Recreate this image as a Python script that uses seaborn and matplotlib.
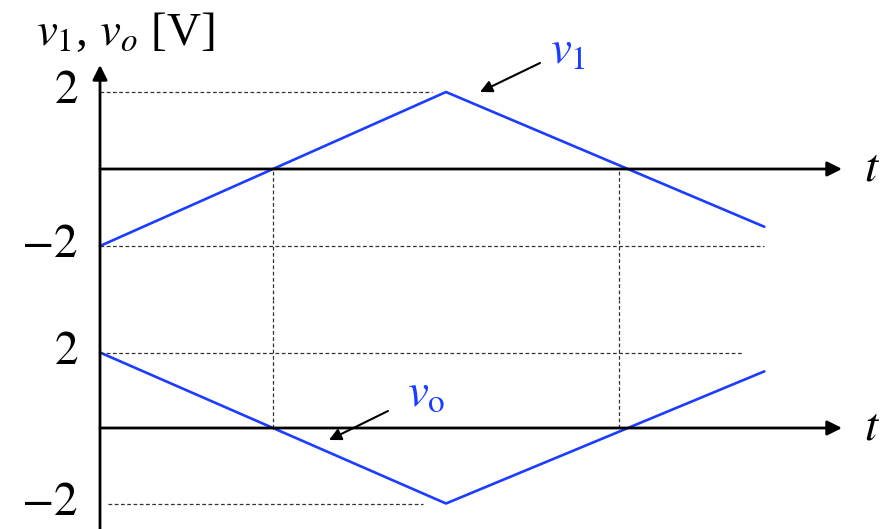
import matplotlib
matplotlib.use("Agg")
import matplotlib.pyplot as plt
import numpy as np
import pandas as pd
import seaborn as sns

# Waveform data (time in units of the v1 rise time, voltages in V)
t_points = [0.0, 1.0, 1.92]
v1_values = [-2.0, 2.0, -1.5]
vo_values = [2.0, -2.0, 1.5]
level_ticks = [2, -2]
level_labels = ["$2$", "$-2$"]
crossing_times = [0.5, 1.5]

sns.set_theme(style="white")
plt.rcParams["font.family"] = ["Liberation Serif", "DejaVu Serif"]
plt.rcParams["mathtext.fontset"] = "stix"
plt.rcParams["text.color"] = "black"

BLUE = "#1c3cff"
DASH = dict(color="#333333", lw=0.9, linestyle=(0, (3, 2)))
FS = 34

W, H = 883, 529
fig = plt.figure(figsize=(W / 100, H / 100), dpi=100)
split = 300  # pixel row where the two panels meet
ax_top = fig.add_axes([0, 1 - split / H, 1, split / H])
ax_bot = fig.add_axes([0, 0, 1, 1 - split / H])

# pixel layout helpers: x0 = origin column, px per time unit
x0, sx = 100, 346
xlim = (-x0 / sx, (W - x0) / sx)
top_c, top_s = 169, 38.5
bot_c, bot_s = 428, 37.75
ax_top.set_xlim(*xlim)
ax_bot.set_xlim(*xlim)
ax_top.set_ylim((top_c - split) / top_s, top_c / top_s)
ax_bot.set_ylim((bot_c - H) / bot_s, (bot_c - split) / bot_s)

def tx(px):
    return (px - x0) / sx

df = pd.DataFrame({"t": t_points, "v1": v1_values, "vo": vo_values})
sns.lineplot(data=df, x="t", y="v1", ax=ax_top, color=BLUE, lw=1.9, sort=False)
sns.lineplot(data=df, x="t", y="vo", ax=ax_bot, color=BLUE, lw=1.9, sort=False)

for ax in (ax_top, ax_bot):
    ax.set_axis_off()

arrow = dict(arrowstyle="-|>", lw=2.0, color="black", mutation_scale=22,
             shrinkA=0, shrinkB=0)

# time axes
t_end = tx(842)
for ax in (ax_top, ax_bot):
    ax.annotate("", xy=(t_end, 0), xytext=(0, 0), arrowprops=arrow)
    ax.text(tx(864), 0, "$t$", fontsize=FS, ha="left", va="center")

# vertical voltage axis spanning both panels
ax_bot.annotate("", xy=(0, (bot_c - 65) / bot_s),
                xytext=(0, (bot_c - H) / bot_s), arrowprops=arrow,
                annotation_clip=False)

# reference levels
ax_top.hlines(2, 0, tx(432), **DASH)
ax_top.hlines(-2, 0, tx(764), **DASH)
ax_bot.hlines(2, 0, tx(742), **DASH)
ax_bot.hlines(-2, tx(108), tx(423), **DASH)

# zero-crossing markers connecting both time axes
for tc in crossing_times:
    ax_top.vlines(tc, (top_c - split) / top_s, 0, **DASH)
    ax_bot.vlines(tc, 0, (bot_c - split) / bot_s, **DASH)

# level labels
for ax in (ax_top, ax_bot):
    for val, lab in zip(level_ticks, level_labels):
        ax.text(tx(78), val, lab, fontsize=FS, ha="right", va="center")

ax_top.text(tx(36), (top_c - 33) / top_s, r"$v_1$, $v_o$ [V]", fontsize=FS,
            ha="left", va="center")

# curve labels with pointers
ax_top.text(tx(550), (top_c - 52) / top_s, r"$v_1$", color=BLUE, fontsize=FS,
            ha="left", va="center")
ax_top.annotate("", xy=(tx(480), (top_c - 92) / top_s),
                xytext=(tx(540), (top_c - 63) / top_s),
                arrowprops=dict(arrowstyle="-|>", lw=1.5, color="black",
                                mutation_scale=18, shrinkA=0, shrinkB=0))
ax_bot.text(tx(407), (bot_c - 395) / bot_s, r"$v_\mathrm{o}$", color=BLUE,
            fontsize=FS, ha="left", va="center")
ax_bot.annotate("", xy=(tx(329), (bot_c - 440) / bot_s),
                xytext=(tx(388), (bot_c - 411) / bot_s),
                arrowprops=dict(arrowstyle="-|>", lw=1.5, color="black",
                                mutation_scale=18, shrinkA=0, shrinkB=0))

fig.savefig("out.png", dpi=100)
